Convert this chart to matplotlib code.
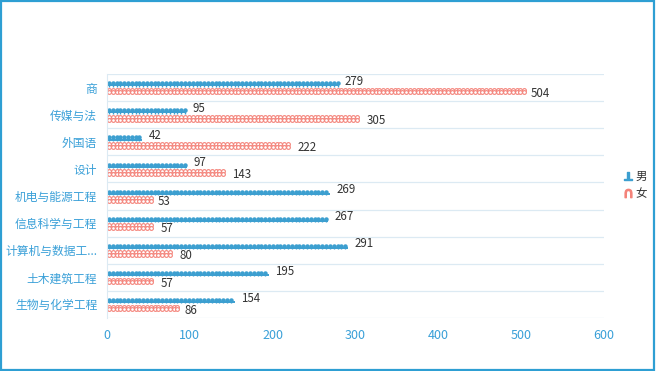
import matplotlib
matplotlib.use("Agg")
import matplotlib.pyplot as plt
from matplotlib.lines import Line2D
from matplotlib.patches import Rectangle
import numpy as np

plt.rcParams['font.family'] = ['Noto Sans CJK SC', 'DejaVu Sans']

categories = ['商', '传媒与法', '外国语', '设计', '机电与能源工程', '信息科学与工程',
              '计算机与数据工...', '土木建筑工程', '生物与化学工程']
male = [279, 95, 42, 97, 269, 267, 291, 195, 154]
female = [504, 305, 222, 143, 53, 57, 80, 57, 86]
xticks = [0, 100, 200, 300, 400, 500, 600]

blue = '#3C9FD0'
pink = '#F4837A'
tick_col = '#3AA0D8'
grid_col = '#DCEAF3'

fig = plt.figure(figsize=(6.56, 3.71), dpi=100)
ax = fig.add_axes([107/656, 1-318/371, 497/656, 244/371])

n = len(categories)
ax.set_xlim(0, 600)
ax.set_ylim(n - 0.5, -0.5)
step = 4.6
for i in range(n):
    ym = i - 0.13
    yf = i + 0.13
    # male: baseline + dots
    xs = np.arange(step / 2, male[i], step)
    ax.plot([0, male[i]], [ym + 0.05, ym + 0.05], color=blue, lw=1.4, solid_capstyle='butt')
    ax.plot(xs, np.full_like(xs, ym - 0.03), ls='none', marker='o', ms=2.2,
            color=blue, mec=blue)
    ax.plot(xs, np.full_like(xs, ym + 0.02), ls='none', marker='|', ms=3,
            color=blue, mew=1.0)
    # female: two rows of hollow circles
    xs = np.arange(step / 2, female[i], step)
    for dy in (-0.05, 0.05):
        ax.plot(xs, np.full_like(xs, yf + dy), ls='none', marker='o', ms=2.7,
                mfc='white', mec=pink, mew=0.8)
    ax.text(male[i] + 8, ym - 0.1, str(male[i]), fontsize=8.3, color='#333333',
            va='center', ha='left')
    ax.text(female[i] + 8, yf + 0.08, str(female[i]), fontsize=8.3, color='#333333',
            va='center', ha='left')

for b in np.arange(-0.5, n, 1.0):
    ax.axhline(b, color=grid_col, lw=0.9, zorder=0)

ax.set_yticks(range(n))
ax.set_yticklabels(categories, fontsize=8.5, color=tick_col)
ax.set_xticks(xticks)
ax.set_xticklabels([str(t) for t in xticks], fontsize=9, color=tick_col)
ax.tick_params(axis='both', length=0)
ax.tick_params(axis='x', pad=8)
ax.tick_params(axis='y', pad=7)
for s in ['top', 'right', 'bottom']:
    ax.spines[s].set_visible(False)
ax.spines['left'].set_color(grid_col)

handles = [Line2D([], [], ls='none', marker='$\u2534$', color=blue, ms=6),
           Line2D([], [], ls='none', marker='$\u2229$', color=pink, ms=6)]
fig.legend(handles, ['男', '女'], loc='center left', bbox_to_anchor=(612/656, 1-185/371),
           frameon=False, fontsize=8.3, handletextpad=0.1, handlelength=1.0,
           labelspacing=0.4, labelcolor='#333333')

fig.patches.append(Rectangle((1/656, 1/371), 653/656, 369/371, transform=fig.transFigure,
                             fill=False, edgecolor='#2E9FD3', lw=1.6))
fig.savefig('out.png', dpi=100)
